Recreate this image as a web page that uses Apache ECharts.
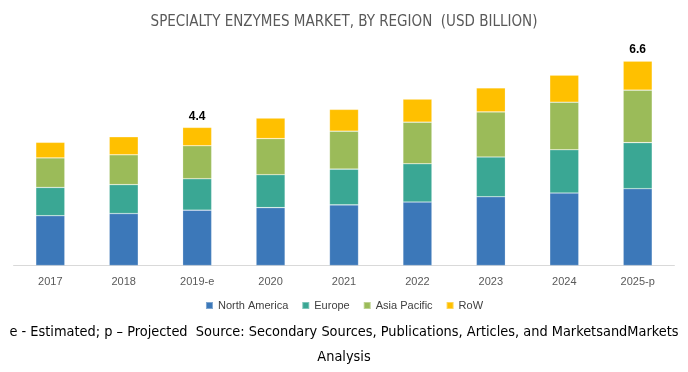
<!DOCTYPE html>
<html><head><meta charset="utf-8">
<script src="https://cdn.jsdelivr.net/npm/echarts@6/dist/echarts.min.js"></script>
<style>html,body{margin:0;padding:0;background:#fff}#c{width:688px;height:372px}</style>
</head><body><div id="c"></div>
<script>
var categories = ['2017','2018','2019-e','2020','2021','2022','2023','2024','2025-p'];
var northAmerica = [1.60,1.67,1.78,1.86,1.95,2.04,2.21,2.33,2.47];
var europe =       [0.91,0.93,1.01,1.06,1.15,1.23,1.28,1.39,1.48];
var asiaPacific =  [0.95,0.96,1.06,1.16,1.22,1.34,1.45,1.53,1.69];
var row =          [0.50,0.58,0.59,0.66,0.70,0.74,0.77,0.87,0.93];
var totalLabels =  ['','','4.4','','','','','','6.6'];
var footLines = ['e - Estimated; p \u2013 Projected  Source: Secondary Sources, Publications, Articles, and MarketsandMarkets', 'Analysis'];

var chart = echarts.init(document.getElementById('c'), null, {renderer:'canvas'});
var narrow = '"Liberation Sans Narrow","DejaVu Sans Condensed","Liberation Sans",sans-serif';
function ser(name, data, color, last){
  var s = {name:name, type:'bar', stack:'t', data:data, barWidth:29,
    itemStyle:{color:color, borderColor:'rgba(255,255,255,0.35)', borderWidth:0.6}};
  if(last){
    s.label = {show:true, position:'top', distance:5, color:'#000', fontWeight:'bold',
      fontSize:12, fontFamily:'"Liberation Sans",Arial,sans-serif',
      formatter:function(p){return totalLabels[p.dataIndex];}};
  }
  return s;
}
chart.setOption({
  animation:false,
  title:{text:'SPECIALTY ENZYMES MARKET, BY REGION  (USD BILLION)', left:'center', top:10,
    textStyle:{fontSize:15, fontWeight:'normal', color:'#595959', fontFamily:narrow}},
  legend:{data:['North America','Europe','Asia Pacific','RoW'], left:'center', top:295,
    itemWidth:7, itemHeight:7, itemGap:13, icon:'rect',
    textStyle:{fontSize:11, color:'#404040', fontFamily:'"Liberation Sans",Arial,sans-serif'}},
  grid:{left:13.6, right:13.6, top:47.8, bottom:106.5, containLabel:false},
  xAxis:{type:'category', data:categories,
    axisLine:{lineStyle:{color:'#D9D9D9'}}, axisTick:{show:false},
    axisLabel:{color:'#595959', fontSize:11, margin:11, fontFamily:'"Liberation Sans",Arial,sans-serif'}},
  yAxis:{type:'value', min:0, max:7, show:false, splitLine:{show:false}},
  graphic:[
    {type:'text', left:'center', top:325,
      style:{text:footLines[0], fill:'#000', fontSize:14.4, fontFamily:narrow}},
    {type:'text', left:'center', top:350,
      style:{text:footLines[1], fill:'#000', fontSize:14.4, fontFamily:narrow}}],
  series:[ser('North America',northAmerica,'#3C78B9'),
          ser('Europe',europe,'#3AA794'),
          ser('Asia Pacific',asiaPacific,'#9BBB59'),
          ser('RoW',row,'#FFC000',true)]
});
</script></body></html>
